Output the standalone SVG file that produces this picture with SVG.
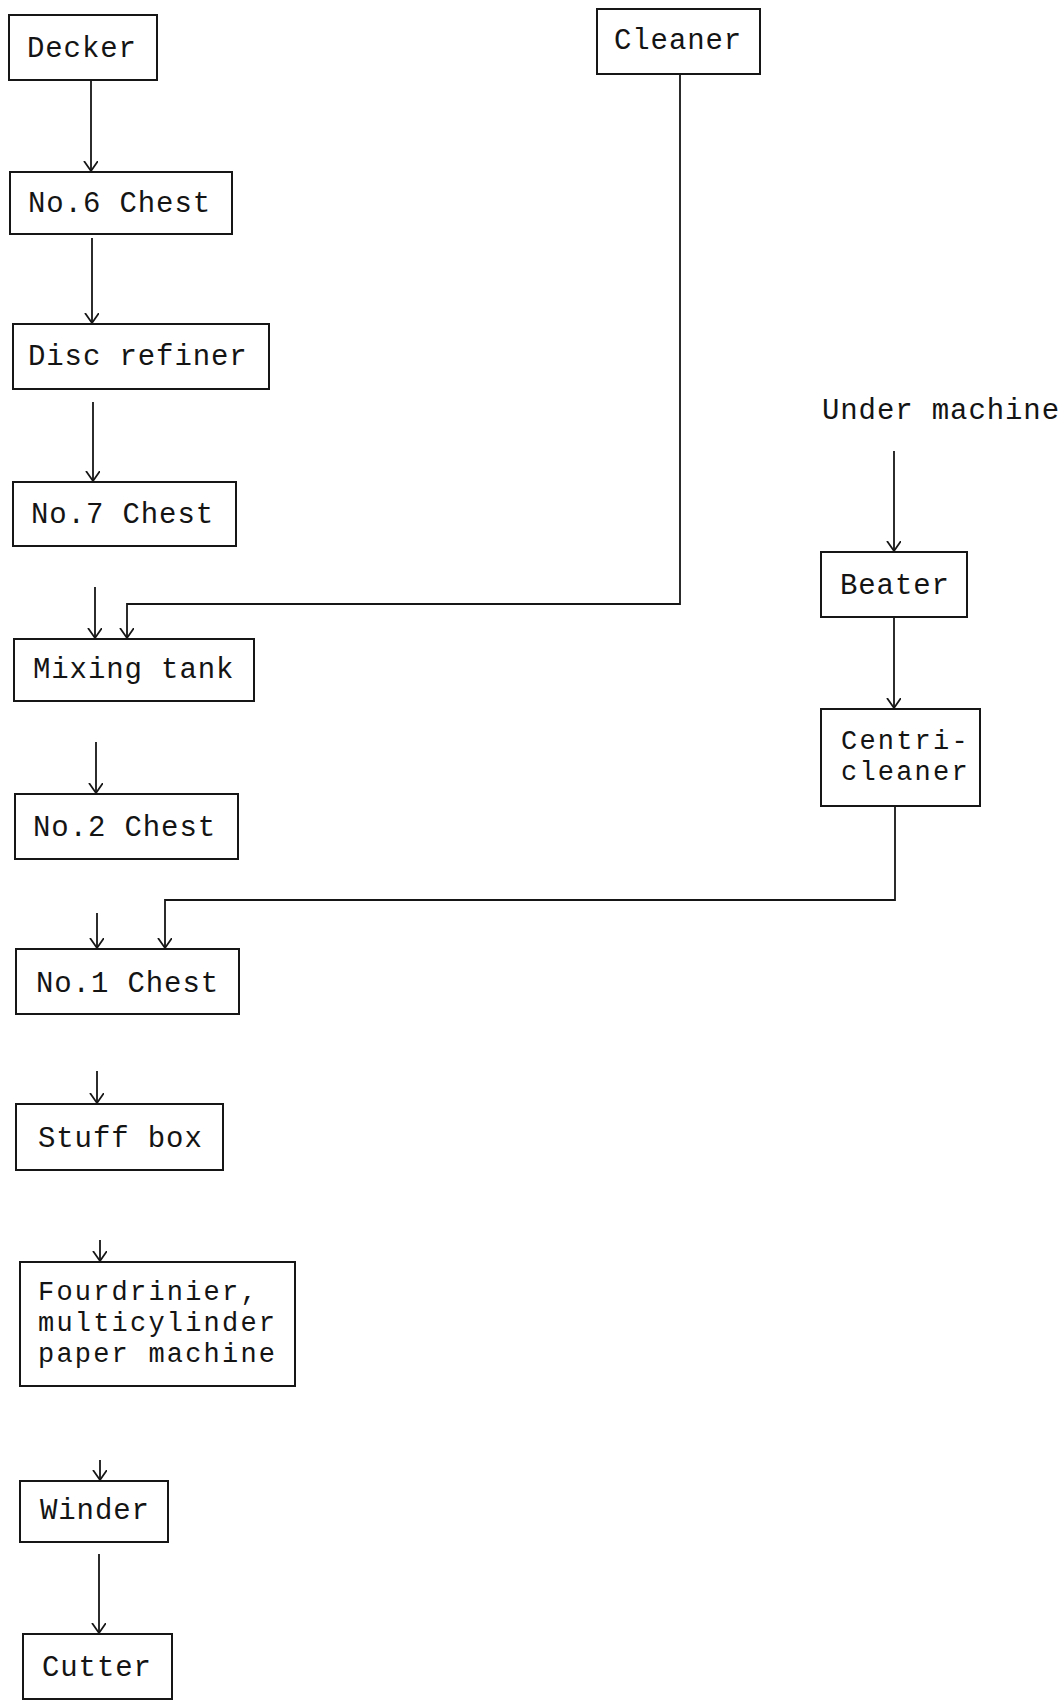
<svg xmlns="http://www.w3.org/2000/svg" width="1062" height="1705" viewBox="0 0 1062 1705">
  <style>
    .box { fill: none; stroke: #161616; stroke-width: 2; }
    .lbl { font-family: "Liberation Mono", "Courier New", monospace; font-size: 29px; letter-spacing: 0.9px; fill: #141414; }
    .lbl.ml { font-size: 27px; letter-spacing: 2.2px; }
    .flow { fill: none; stroke: #161616; stroke-width: 1.8; }
    .arr { marker-end: url(#ah); }
  </style>
  <defs>
    <marker id="ah" markerWidth="16" markerHeight="16" refX="10" refY="7" orient="auto" markerUnits="userSpaceOnUse">
      <path d="M0,0 L10,7 L0,14" fill="none" stroke="#161616" stroke-width="1.8"/>
    </marker>
  </defs>
  <rect width="1062" height="1705" fill="#ffffff"/>

  <!-- process steps -->
  <g id="decker">
    <rect class="box" x="9" y="15" width="148" height="65"/>
    <text class="lbl" x="27" y="57">Decker</text>
  </g>
  <g id="no6-chest">
    <rect class="box" x="10" y="172" width="222" height="62"/>
    <text class="lbl" x="28" y="212">No.6 Chest</text>
  </g>
  <g id="disc-refiner">
    <rect class="box" x="13" y="324" width="256" height="65"/>
    <text class="lbl" x="28" y="365">Disc refiner</text>
  </g>
  <g id="no7-chest">
    <rect class="box" x="13" y="482" width="223" height="64"/>
    <text class="lbl" x="31" y="523">No.7 Chest</text>
  </g>
  <g id="cleaner">
    <rect class="box" x="597" y="9" width="163" height="65"/>
    <text class="lbl" x="614" y="49">Cleaner</text>
  </g>
  <g id="mixing-tank">
    <rect class="box" x="14" y="639" width="240" height="62"/>
    <text class="lbl" x="33" y="678">Mixing tank</text>
  </g>
  <g id="no2-chest">
    <rect class="box" x="15" y="794" width="223" height="65"/>
    <text class="lbl" x="33" y="836">No.2 Chest</text>
  </g>
  <g id="no1-chest">
    <rect class="box" x="16" y="949" width="223" height="65"/>
    <text class="lbl" x="36" y="992">No.1 Chest</text>
  </g>
  <g id="stuff-box">
    <rect class="box" x="16" y="1104" width="207" height="66"/>
    <text class="lbl" x="38" y="1147">Stuff box</text>
  </g>
  <g id="paper-machine">
    <rect class="box" x="20" y="1262" width="275" height="124"/>
    <text class="lbl ml" x="38" y="1300">Fourdrinier,</text>
    <text class="lbl ml" x="38" y="1331">multicylinder</text>
    <text class="lbl ml" x="38" y="1362">paper machine</text>
  </g>
  <g id="winder">
    <rect class="box" x="20" y="1481" width="148" height="61"/>
    <text class="lbl" x="40" y="1519">Winder</text>
  </g>
  <g id="cutter">
    <rect class="box" x="23" y="1634" width="149" height="65"/>
    <text class="lbl" x="42" y="1676">Cutter</text>
  </g>
  <g id="under-machine">
    <text class="lbl" x="822" y="419">Under machine</text>
  </g>
  <g id="beater">
    <rect class="box" x="821" y="552" width="146" height="65"/>
    <text class="lbl" x="840" y="594">Beater</text>
  </g>
  <g id="centri-cleaner">
    <rect class="box" x="821" y="709" width="159" height="97"/>
    <text class="lbl ml" x="841" y="749">Centri-</text>
    <text class="lbl ml" x="841" y="780">cleaner</text>
  </g>

  <!-- connectors -->
  <g id="connectors">
    <line class="flow arr" x1="91" y1="80" x2="91" y2="171"/>
    <line class="flow arr" x1="92" y1="238" x2="92" y2="323"/>
    <line class="flow arr" x1="93" y1="402" x2="93" y2="481"/>
    <line class="flow arr" x1="95" y1="587" x2="95" y2="638"/>
    <polyline class="flow arr" points="680,74 680,604 127,604 127,638"/>
    <line class="flow arr" x1="96" y1="742" x2="96" y2="793"/>
    <line class="flow arr" x1="97" y1="913" x2="97" y2="948"/>
    <polyline class="flow arr" points="895,806 895,900 165,900 165,948"/>
    <line class="flow arr" x1="97" y1="1071" x2="97" y2="1103"/>
    <line class="flow arr" x1="100" y1="1240" x2="100" y2="1261"/>
    <line class="flow arr" x1="100" y1="1460" x2="100" y2="1480"/>
    <line class="flow arr" x1="99" y1="1554" x2="99" y2="1633"/>
    <line class="flow arr" x1="894" y1="451" x2="894" y2="551"/>
    <line class="flow arr" x1="894" y1="617" x2="894" y2="708"/>
  </g>
</svg>
